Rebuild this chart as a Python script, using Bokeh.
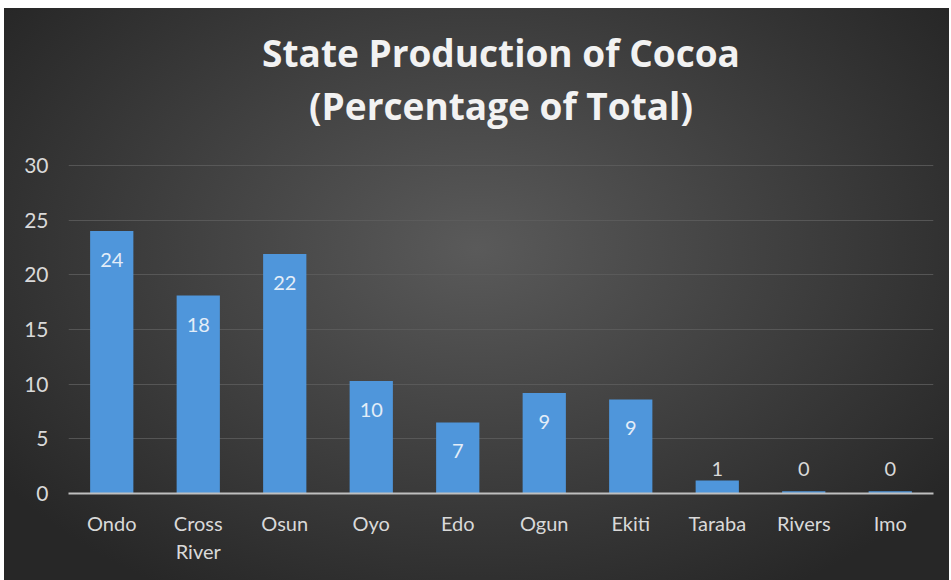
from bokeh.plotting import figure
from bokeh.models import ColumnDataSource, InlineStyleSheet, FixedTicker, Range1d, Title
from bokeh.embed import file_html
from bokeh.resources import INLINE
from bokeh.core.properties import value

# ---- data ----
states = ["Ondo", "Cross River", "Osun", "Oyo", "Edo", "Ogun", "Ekiti", "Taraba", "Rivers", "Imo"]
shares = [24.0, 18.1, 21.9, 10.3, 6.5, 9.2, 8.6, 1.2, 0.2, 0.2]
y_ticks = [0, 5, 10, 15, 20, 25, 30]
title_lines = ["State Production of Cocoa", "(Percentage of Total)"]

# axis factors: two-word names wrap onto two lines
factors = [s.replace(" ", "\n") for s in states]
labels = [str(int(v + 0.5)) for v in shares]
big = [i for i, v in enumerate(shares) if v >= 3]
small = [i for i, v in enumerate(shares) if v < 3]

src = ColumnDataSource(dict(state=factors, share=shares))
src_big = ColumnDataSource(dict(state=[factors[i] for i in big],
                                share=[shares[i] for i in big],
                                lab=[labels[i] for i in big]))
src_small = ColumnDataSource(dict(state=[factors[i] for i in small],
                                  base=[0 for i in small],
                                  lab=[labels[i] for i in small]))

FONT = "Lato"
TFONT = "Open Sans"

# layout: value axis 0..30 spans 328 px; an empty band of 35 px sits above 30
AXIS_PX = 328
PAD_PX = 35
y_max = y_ticks[-1] * (AXIS_PX + PAD_PX) / AXIS_PX

css = InlineStyleSheet(css=""":host {
  background:
    radial-gradient(ellipse 62% 70% at 50% 42%, #5a5a5a 0%, #3e3e3e 55%, #272727 100%) 4px 8px / 945px 572px no-repeat,
    #ffffff;
}""")

p = figure(x_range=factors, y_range=Range1d(0, y_max), width=951, height=580,
           output_backend="svg", toolbar_location=None,
           min_border_left=68, min_border_right=18,
           min_border_top=580 - 87 - AXIS_PX - PAD_PX, min_border_bottom=87)
p.stylesheets = [css]
p.background_fill_alpha = 0
p.border_fill_alpha = 0
p.outline_line_color = None
p.x_range.range_padding = 0

# title: main title is the outer (first) line, second line is stacked next to the frame
p.title.text = title_lines[0]
p.title.align = "center"
p.title.text_font = TFONT
p.title.text_font_size = "37px"
p.title.text_font_style = "bold"
p.title.text_color = "#f2f2f2"
p.title.standoff = 0
p.add_layout(Title(text=title_lines[1], align="center", text_font=TFONT,
                   text_font_size="37px", text_font_style="bold",
                   text_color="#f2f2f2", standoff=0), "above")

p.vbar(x="state", top="share", width=0.5, source=src,
       fill_color="#4f96db", line_color=None)

p.text(x="state", y="share", text="lab", source=src_big, y_offset=29,
       text_align="center", text_baseline="middle", text_font=value(FONT),
       text_font_size="20px", text_color="#e3edf8")
p.text(x="state", y="base", text="lab", source=src_small, y_offset=-25,
       text_align="center", text_baseline="middle", text_font=value(FONT),
       text_font_size="20px", text_color="#d9d9d9")

p.xgrid.grid_line_color = None
p.ygrid.grid_line_color = "#5e5e5e"
p.ygrid.grid_line_alpha = 0.8
p.yaxis.ticker = FixedTicker(ticks=y_ticks)

for ax in (p.xaxis, p.yaxis):
    ax.major_tick_line_color = None
    ax.minor_tick_line_color = None
    ax.major_tick_out = 0
    ax.major_tick_in = 0
    ax.minor_tick_out = 0
    ax.major_label_text_font = FONT
    ax.major_label_text_color = "#d9d9d9"

p.yaxis.major_label_text_font_size = "21px"
p.xaxis.major_label_text_font_size = "20px"
p.yaxis.axis_line_color = None
p.yaxis.major_label_standoff = 20
p.xaxis.axis_line_color = "#bfbfbf"
p.xaxis.axis_line_width = 2
p.xaxis.major_label_standoff = 17

open("out.html", "w").write(file_html(p, INLINE))
